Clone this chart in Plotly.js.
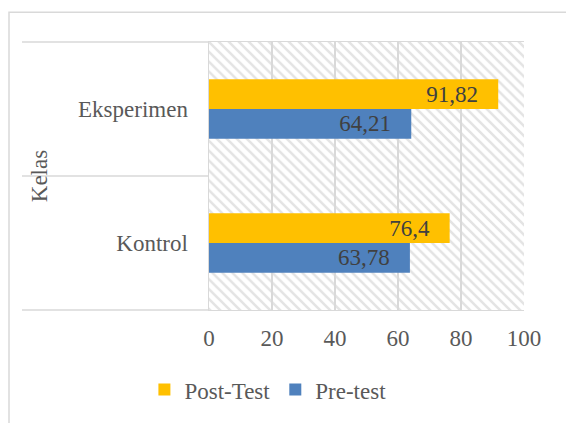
<!DOCTYPE html>
<html>
<head>
<meta charset="utf-8">
<script src="https://cdn.plot.ly/plotly-3.0.1.min.js"></script>
<style>html,body{margin:0;padding:0;background:#fff;}#chart{width:566px;height:423px;}</style>
</head>
<body>
<div id="chart"></div>
<script>
// Data
const categories = ['Kontrol', 'Eksperimen'];
const postTest = [76.4, 91.82];
const preTest = [63.78, 64.21];
const seriesNames = ['Post-Test', 'Pre-test'];
const xTicks = [0, 20, 40, 60, 80, 100];
const axisTitle = 'Kelas';

const FONT = 'Liberation Serif, Times New Roman, serif';
const pad = '\u00a0\u00a0\u00a0';
const fmt = v => String(v).replace('.', ',') + pad;

const pattern = '<svg xmlns="http://www.w3.org/2000/svg" width="315" height="271" preserveAspectRatio="none">' +
  '<defs><pattern id="p" patternUnits="userSpaceOnUse" width="10" height="10">' +
  '<path d="M-1,-1 L11,11 M-1,9 L1,11 M9,-1 L11,1" stroke="#e4e4e4" stroke-width="2.6"/>' +
  '</pattern></defs><rect width="315" height="271" fill="#fff"/><rect width="315" height="271" fill="url(#p)"/></svg>';
const patternUri = 'data:image/svg+xml;base64,' + btoa(pattern);

const labelFont = {family: FONT, size: 23, color: '#404040'};

const traces = [
  {
    type: 'bar', orientation: 'h', name: seriesNames[1],
    y: categories, x: preTest,
    text: preTest.map(fmt), textposition: 'inside', insidetextanchor: 'end',
    constraintext: 'none',
    textfont: labelFont, insidetextfont: labelFont,
    marker: {color: '#4F81BD'}, hoverinfo: 'x'
  },
  {
    type: 'bar', orientation: 'h', name: seriesNames[0],
    y: categories, x: postTest,
    text: postTest.map(fmt), textposition: 'inside', insidetextanchor: 'end',
    constraintext: 'none',
    textfont: labelFont, insidetextfont: labelFont,
    marker: {color: '#FFC000'}, hoverinfo: 'x'
  }
];

const px = v => (v - 209) / 315;
const py = v => (313 - v) / 271;

const layout = {
  width: 566, height: 423,
  margin: {l: 209, r: 42, t: 42, b: 110},
  paper_bgcolor: '#fff', plot_bgcolor: '#fff',
  font: {family: FONT, size: 23, color: '#595959'},
  separators: ',.',
  barmode: 'group', bargap: 0.556, bargroupgap: 0,
  showlegend: true,
  legend: {orientation: 'h', traceorder: 'reversed', x: 0.187, xanchor: 'center', y: -0.297, yanchor: 'middle',
    font: {family: FONT, size: 23, color: '#595959'}, itemwidth: 30, itemsizing: 'constant'},
  xaxis: {
    range: [0, 100], tickvals: xTicks, ticktext: xTicks.map(String),
    showgrid: true, gridcolor: '#d9d9d9', gridwidth: 1.3,
    zeroline: false, showline: true, mirror: true, linecolor: '#d9d9d9', linewidth: 1.3,
    ticks: 'outside', ticklen: 7, tickcolor: 'rgba(0,0,0,0)',
    tickfont: {family: FONT, size: 23, color: '#595959'}, fixedrange: true
  },
  yaxis: {
    type: 'category', categoryorder: 'array', categoryarray: categories,
    showgrid: false, zeroline: false, showline: true, linecolor: '#d9d9d9', linewidth: 1.5,
    ticks: 'outside', ticklen: 15, tickcolor: 'rgba(0,0,0,0)',
    tickfont: {family: FONT, size: 23, color: '#595959'},
    title: {text: axisTitle, font: {family: FONT, size: 23, color: '#595959'}, standoff: 24},
    fixedrange: true
  },
  images: [{source: patternUri, xref: 'paper', yref: 'paper', x: 0, y: 1, sizex: 1, sizey: 1,
    xanchor: 'left', yanchor: 'top', sizing: 'stretch', layer: 'below'}],
  shapes: [
    {type: 'rect', xref: 'paper', yref: 'paper', x0: px(9), x1: px(580), y0: py(440), y1: py(12),
      line: {color: '#d9d9d9', width: 1.5}, fillcolor: 'rgba(0,0,0,0)'},
    {type: 'line', xref: 'paper', yref: 'paper', x0: px(22), x1: 0, y0: 1, y1: 1, line: {color: '#d9d9d9', width: 1.3}},
    {type: 'line', xref: 'paper', yref: 'paper', x0: px(22), x1: 0, y0: 0.5, y1: 0.5, line: {color: '#d9d9d9', width: 1.3}},
    {type: 'line', xref: 'paper', yref: 'paper', x0: px(22), x1: 0, y0: 0, y1: 0, line: {color: '#d9d9d9', width: 1.3}}
  ]
};

Plotly.newPlot('chart', traces, layout, {displayModeBar: false, staticPlot: true});
</script>
</body>
</html>
